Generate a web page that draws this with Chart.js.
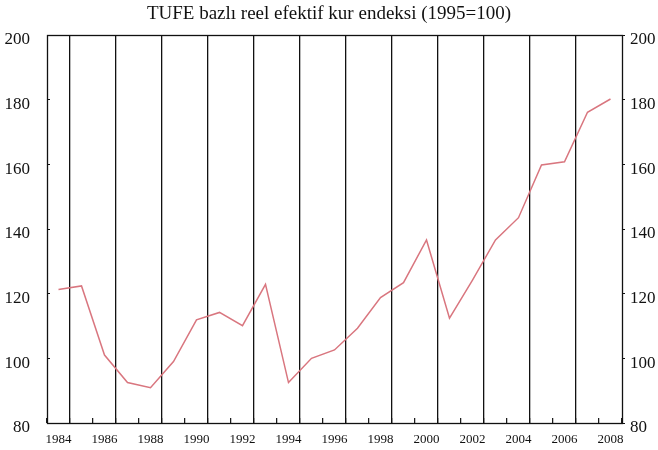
<!DOCTYPE html>
<html>
<head>
<meta charset="utf-8">
<script src="https://cdn.jsdelivr.net/npm/chart.js@4/dist/chart.umd.min.js"></script>
<style>
  html, body { margin: 0; padding: 0; background: #fff; }
  #wrap { width: 658px; height: 450px; }
</style>
</head>
<body>
<div id="wrap"><canvas id="grafik"></canvas></div>
<script>
const yillar = ['1984','1985','1986','1987','1988','1989','1990','1991','1992','1993','1994','1995',
  '1996','1997','1998','1999','2000','2001','2002','2003','2004','2005','2006','2007','2008'];
const reelKur = [121.3, 122.4, 101.0, 92.5, 90.9, 99.0, 111.9, 114.2, 110.1, 122.9, 92.5, 100.0,
  102.6, 109.3, 118.8, 123.4, 136.6, 112.4, 124.2, 136.6, 143.5, 159.8, 160.8, 176.1, 180.2];
const yMin = 80, yMax = 200, yAdim = 20;

const yaziTipi = "'Liberation Serif', 'DejaVu Serif', serif";

// cerceve: grafik alaninin etrafina ince siyah kenar
const cerceve = {
  id: 'cerceve',
  afterDraw(chart) {
    const { ctx, chartArea: a } = chart;
    ctx.save();
    ctx.strokeStyle = '#111';
    ctx.lineWidth = 1.3;
    ctx.strokeRect(Math.round(a.left) + 0.5, Math.round(a.top) + 0.5,
      Math.round(a.right - a.left), Math.round(a.bottom - a.top));
    ctx.restore();
  }
};

// y eksenleri: sabit genislik, etiket tasmasi icin ek bosluk yok
const yEksenSabitle = w => s => { s.width = w; s.paddingTop = 0; s.paddingBottom = 0; };

new Chart(document.getElementById('grafik'), {
  type: 'line',
  data: {
    labels: yillar,
    datasets: [{
      data: reelKur,
      borderColor: '#d9767f',
      borderWidth: 1.5,
      pointRadius: 0,
      tension: 0,
      yAxisID: 'y'
    }]
  },
  options: {
    responsive: true,
    maintainAspectRatio: false,
    animation: false,
    layout: { padding: 0 },
    plugins: {
      legend: { display: false },
      tooltip: { enabled: false },
      title: {
        display: true,
        text: 'TUFE bazlı reel efektif kur endeksi (1995=100)',
        color: '#111',
        font: { family: yaziTipi, size: 19, weight: 'normal', lineHeight: 1.2 },
        padding: { top: 3, bottom: 9.2 }
      }
    },
    scales: {
      x: {
        type: 'category',
        offset: true,
        afterFit: s => { s.height = 27; },
        border: { display: false },
        grid: {
          offset: true,
          drawOnChartArea: true,
          color: c => (c.index % 2 === 1 ? '#111' : 'rgba(0,0,0,0)'),
          lineWidth: 1.3,
          tickLength: -5,
          tickColor: '#111',
          tickWidth: 1.2
        },
        ticks: {
          autoSkip: false,
          maxRotation: 0,
          padding: 14,
          color: '#111',
          font: { family: yaziTipi, size: 13 },
          callback: (v, i) => (i % 2 === 0 ? yillar[i] : '')
        }
      },
      y: {
        position: 'left',
        min: yMin, max: yMax,
        afterFit: yEksenSabitle(47),
        border: { display: false },
        grid: { drawOnChartArea: false, tickLength: -3, tickColor: '#111' },
        ticks: {
          stepSize: yAdim,
          padding: 20,
          labelOffset: 5,
          color: '#111',
          font: { family: yaziTipi, size: 17 }
        }
      },
      y2: {
        position: 'right',
        min: yMin, max: yMax,
        afterFit: yEksenSabitle(36),
        border: { display: false },
        grid: { drawOnChartArea: false, tickLength: 3, tickColor: '#111' },
        ticks: {
          stepSize: yAdim,
          padding: 5,
          labelOffset: 5,
          color: '#111',
          font: { family: yaziTipi, size: 17 }
        }
      }
    }
  },
  plugins: [cerceve]
});
</script>
</body>
</html>
